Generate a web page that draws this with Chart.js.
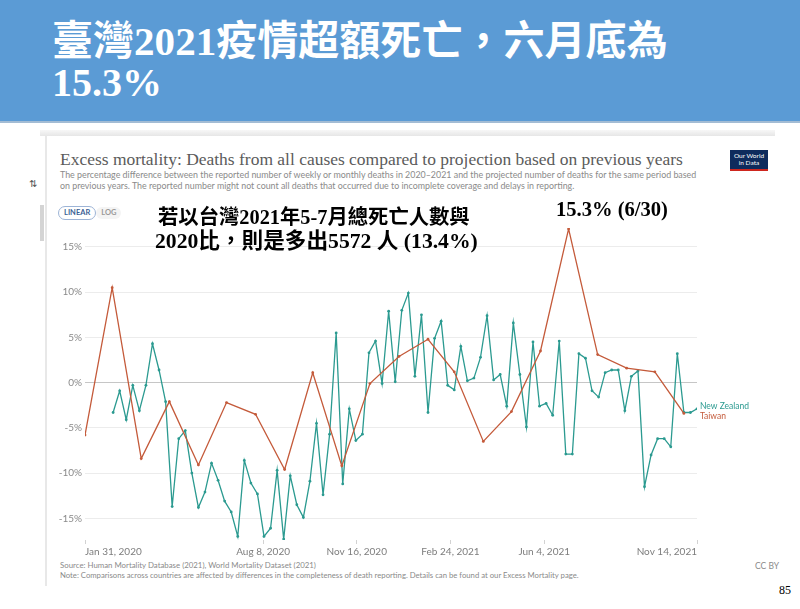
<!DOCTYPE html>
<html>
<head>
<meta charset="utf-8">
<script src="https://cdn.jsdelivr.net/npm/chart.js@4.4.1/dist/chart.umd.min.js"></script>
<style>
    body { margin: 0; width: 800px; height: 609px; position: relative; overflow: hidden; background: #fff; font-family: Lato, sans-serif; }
    .abs { position: absolute; white-space: nowrap; line-height: 1; }
    #header { left: 0; top: 0; width: 800px; height: 121px; background: #5b9bd5; border-bottom: 2px solid #a3bcd4; }
    .slide-title { color: #fff; font-family: "Liberation Serif", "Noto Sans CJK TC", serif; font-weight: bold; font-size: 40px; }
    .note { color: #000; font-family: "Liberation Serif", "Noto Sans CJK TC", serif; font-weight: bold; font-size: 20px; }
    .owid-title { color: #5b5b5b; font-family: "Liberation Serif", serif; font-size: 18px; }
    .owid-sub { color: #8a8a8a; font-size: 9.5px; }
    .owid-foot { color: #8a8a8a; font-size: 8.5px; }
    #logo { left: 730px; top: 150px; width: 38px; height: 21px; background: #0e2b5c; border-bottom: 2px solid #ce261e;
        color: #fff; font-size: 6.5px; text-align: center; line-height: 1.15; padding-top: 2px; box-sizing: border-box; white-space: normal; }
    .btn { display: inline-block; font-size: 7.5px; font-weight: bold; padding: 2px 5px; border-radius: 7px; }
    #chart { position: absolute; left: 50px; top: 219px; }
</style>
</head>
<body>
<div id="header" class="abs"></div>
<div class="abs slide-title fit" data-w="616" style="left:52px;top:21px;">臺灣2021疫情超額死亡，六月底為</div>
<div class="abs slide-title fit" data-w="110" style="left:52px;top:63px;">15.3%</div>

<div class="abs" style="left:40px;top:130px;width:735px;height:6px;background:linear-gradient(#f7f7f7,#e6e6e6);"></div>
<div class="abs" style="left:45px;top:136px;width:2px;height:450px;background:#e8e8e8;"></div>
<div class="abs" style="left:40px;top:205px;width:4px;height:36px;background:#d4d4d4;"></div>
<div class="abs" style="left:29px;top:178px;font-size:10px;color:#555;">⇅</div>

<div class="abs owid-title fit" data-w="623" style="left:60px;top:151px;">Excess mortality: Deaths from all causes compared to projection based on previous years</div>
<div class="abs owid-sub fit" data-w="637" style="left:60px;top:171px;">The percentage difference between the reported number of weekly or monthly deaths in 2020–2021 and the projected number of deaths for the same period based</div>
<div class="abs owid-sub fit" data-w="515" style="left:60px;top:182px;">on previous years. The reported number might not count all deaths that occurred due to incomplete coverage and delays in reporting.</div>
<div id="logo" class="abs">Our World<br>in Data</div>

<div class="abs" style="left:58px;top:201px;">
    <span class="btn" style="border:1px solid #9db4d6;color:#3d5f95;">LINEAR</span><span class="btn" style="color:#9a9a9a;background:#f4f4f4;">LOG</span>
</div>

<canvas id="chart" width="700" height="340"></canvas>

<div class="abs note fit" data-w="312" style="left:158px;top:207px;">若以台灣2021年5-7月總死亡人數與</div>
<div class="abs note fit" data-w="323" style="left:155px;top:231px;">2020比，則是多出5572 人 (13.4%)</div>
<div class="abs note fit" data-w="112" style="left:556px;top:199px;">15.3% (6/30)</div>

<div class="abs owid-foot fit" data-w="256" style="left:60px;top:562px;">Source: Human Mortality Database (2021), World Mortality Dataset (2021)</div>
<div class="abs owid-foot fit" data-w="520" style="left:60px;top:572px;">Note: Comparisons across countries are affected by differences in the completeness of death reporting. Details can be found at our Excess Mortality page.</div>
<div class="abs owid-foot" style="left:755px;top:562px;">CC BY</div>
<div class="abs" style="left:779px;top:584px;font-family:'Liberation Serif',serif;font-size:12px;">85</div>

<script>
// Taiwan, monthly (month-end dates)
const twDates = [
    '2020-01-31', '2020-02-29', '2020-03-31', '2020-04-30', '2020-05-31', '2020-06-30',
    '2020-07-31', '2020-08-31', '2020-09-30', '2020-10-31', '2020-11-30', '2020-12-31',
    '2021-01-31', '2021-02-28', '2021-03-31', '2021-04-30', '2021-05-31', '2021-06-30',
    '2021-07-31', '2021-08-31', '2021-09-30', '2021-10-31'
];
const twValues = [
    -5.8, 10.5, -8.4, -2.1, -9.1, -2.2, -3.5, -9.6, 1.1, -9.2, -0.1, 2.9,
    4.8, 1.2, -6.5, -3.2, 3.5, 17.0, 3.1, 1.6, 1.2, -3.4
];

// New Zealand, weekly from the first week below
const nzFirstWeek = '2020-03-01';
const nzValues = [
    -3.3, -0.9, -4.1, -0.3, -3.1, -0.3, 4.3, 1.4, -2.1, -13.7, -6.2, -5.3, -10.0, -13.8,
    -12.1, -8.9, -10.8, -13.1, -14.3, -17.0, -8.6, -11.1, -12.3, -17.0, -16.1, -9.7, -17.3,
    -10.3, -13.5, -14.9, -10.9, -4.5, -12.4,
    -5.7, 5.5, -11.2, -2.9, -6.4, -5.7, 3.3, 4.6, -0.1, 7.9, 0.1, 8.0, 9.9, 0.7, 7.5, -3.3, 4.9, 6.8,
    -0.3, -0.8, 4.0, 0.2, 0.5, 2.8, 7.4, 0.3, 0.9, -2.6, 6.6, 0.9, -4.9, 4.5, -2.6, -2.3, -3.6, 4.6,
    -7.9, -7.9, 3.2, 2.7, -0.9, -1.6, 1.1, 1.4, 1.4, -3.1, 0.7, 1.3, -11.5, -8.0, -6.2, -6.2,
    -7.1, 3.2, -3.3, -3.3, -2.9
];

const xTickDates = ['2020-01-31', '2020-08-08', '2020-11-16', '2021-02-24', '2021-06-04', '2021-11-14'];
const xTickLabels = ['Jan 31, 2020', 'Aug 8, 2020', 'Nov 16, 2020', 'Feb 24, 2021', 'Jun 4, 2021', 'Nov 14, 2021'];
const yTicks = [-15, -10, -5, 0, 5, 10, 15];

const day = s => Date.parse(s + 'T00:00:00Z') / 86400000;

const twPoints = twDates.map((d, i) => ({ x: day(d), y: twValues[i] }));
const nzPoints = nzValues.map((v, i) => ({ x: day(nzFirstWeek) + 7 * i, y: v }));

const TEAL = '#2b9a90';
const ORANGE = '#c45a3a';

const endLabels = {
    id: 'endLabels',
    afterDatasetsDraw(chart) {
        const ctx = chart.ctx;
        ctx.save();
        ctx.font = '8.5px Lato';
        ctx.textBaseline = 'middle';
        chart.data.datasets.forEach((ds, i) => {
            const pts = chart.getDatasetMeta(i).data;
            const last = pts[pts.length - 1];
            ctx.fillStyle = ds.borderColor;
            ctx.fillText(ds.label, chart.chartArea.right + 3, last.y + ds.labelShift);
        });
        ctx.restore();
    }
};

function fitText() {
    document.querySelectorAll('.fit').forEach(el => {
        el.style.fontSize = '';
        const size = parseFloat(getComputedStyle(el).fontSize);
        const w = el.getBoundingClientRect().width;
        el.style.fontSize = (size * Number(el.dataset.w) / w) + 'px';
    });
}
fitText();
if (document.fonts) document.fonts.ready.then(fitText);

new Chart(document.getElementById('chart').getContext('2d'), {
    type: 'line',
    data: {
        datasets: [
            {
                label: 'Taiwan',
                data: twPoints,
                borderColor: ORANGE,
                backgroundColor: ORANGE,
                borderWidth: 1.3,
                pointRadius: 1.4,
                pointBorderWidth: 0,
                tension: 0,
                labelShift: 2.5
            },
            {
                label: 'New Zealand',
                data: nzPoints,
                borderColor: TEAL,
                backgroundColor: TEAL,
                borderWidth: 1.3,
                pointRadius: 1.4,
                pointBorderWidth: 0,
                tension: 0,
                labelShift: -3
            }
        ]
    },
    options: {
        responsive: false,
        animation: false,
        layout: { padding: { top: 6, right: 53, bottom: 0, left: 0 } },
        plugins: { legend: { display: false }, tooltip: { enabled: false } },
        scales: {
            x: {
                type: 'linear',
                min: day(xTickDates[0]),
                max: day(xTickDates[xTickDates.length - 1]),
                afterBuildTicks: s => { s.ticks = xTickDates.map(d => ({ value: day(d) })); },
                afterFit: s => { s.height = 19; },
                grid: { drawOnChartArea: false, drawTicks: true, tickLength: 4, color: '#d2d2d2' },
                border: { display: false },
                ticks: {
                    autoSkip: false,
                    maxRotation: 0,
                    align: 'inner',
                    padding: 2,
                    color: '#7d7d7d',
                    font: { family: 'Lato', size: 10 },
                    callback: (v, i) => xTickLabels[i]
                }
            },
            y: {
                min: -17.4,
                max: 17.1,
                afterBuildTicks: s => { s.ticks = yTicks.map(v => ({ value: v })); },
                afterFit: s => { s.width = 35; },
                grid: {
                    drawTicks: false,
                    color: c => (c.tick && c.tick.value === 0) ? '#c6c6c6' : '#ececec'
                },
                border: { display: false },
                ticks: {
                    padding: 3,
                    color: '#8a8a8a',
                    font: { family: 'Lato', size: 10 },
                    callback: v => v + '%'
                }
            }
        }
    },
    plugins: [endLabels]
});
</script>
</body>
</html>
